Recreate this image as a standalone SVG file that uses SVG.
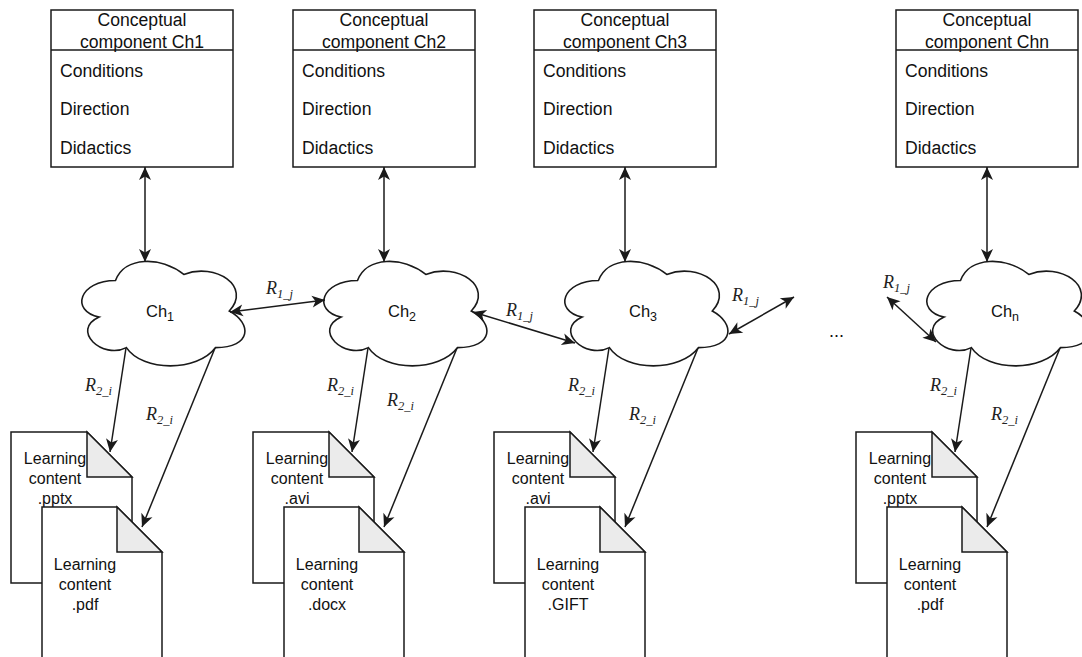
<svg xmlns="http://www.w3.org/2000/svg" xmlns:xlink="http://www.w3.org/1999/xlink" width="1082" height="657" viewBox="0 0 1082 657">
<style>
.box{fill:#fff;stroke:#1a1a1a;stroke-width:1.5}
.t{font-family:"Liberation Sans",Arial,Helvetica,sans-serif;fill:#111}
.hdr{font-size:17.6px;text-anchor:middle}
.item{font-size:17.6px}
.doc{fill:#fff;stroke:#1a1a1a;stroke-width:1.5;stroke-linejoin:miter}
.fold{fill:#ebebeb;stroke:#1a1a1a;stroke-width:1.5}
.dt{font-size:16px;text-anchor:middle}
.cl{fill:#fff;stroke:#1a1a1a;stroke-width:1.6}
.ct{font-size:16.5px;text-anchor:middle}
.edge{stroke:#1a1a1a;stroke-width:1.5;fill:none}
.lbl{font-family:"Liberation Serif","Times New Roman",serif;font-style:italic;font-size:18px;fill:#222}
.sub{font-size:12.5px}
</style>
<defs>
<marker id="arr" viewBox="-14 -7 15 14" refX="0" refY="0" markerWidth="15" markerHeight="14" markerUnits="userSpaceOnUse" orient="auto-start-reverse">
<path d="M0,0 L-13,-6 L-9.5,0 L-13,6 Z" fill="#1a1a1a"/>
</marker>
<path id="cloud" d="M45.5,30.5 C9.1,30.5 0,61 29.1,67.1 C0,80.5 32.8,109.8 56.4,97.6 C72.8,122 127.4,122 145.6,97.6 C182,97.6 182,73.2 159.3,61 C182,36.6 145.6,12.2 113.8,24.4 C91,6.1 54.6,6.1 45.5,30.5 Z"/>
</defs>

<!-- Conceptual component boxes -->
<g id="box1">
<rect class="box" x="51" y="10" width="182" height="157"/>
<line class="box" x1="51" y1="50" x2="233" y2="50"/>
<text class="t hdr" x="142" y="26">Conceptual</text>
<text class="t hdr" x="142" y="47.5">component Ch1</text>
<text class="t item" x="60" y="76.5">Conditions</text>
<text class="t item" x="60" y="115">Direction</text>
<text class="t item" x="60" y="154">Didactics</text>
</g>
<g id="box2">
<rect class="box" x="293" y="10" width="182" height="157"/>
<line class="box" x1="293" y1="50" x2="475" y2="50"/>
<text class="t hdr" x="384" y="26">Conceptual</text>
<text class="t hdr" x="384" y="47.5">component Ch2</text>
<text class="t item" x="302" y="76.5">Conditions</text>
<text class="t item" x="302" y="115">Direction</text>
<text class="t item" x="302" y="154">Didactics</text>
</g>
<g id="box3">
<rect class="box" x="534" y="10" width="182" height="157"/>
<line class="box" x1="534" y1="50" x2="716" y2="50"/>
<text class="t hdr" x="625" y="26">Conceptual</text>
<text class="t hdr" x="625" y="47.5">component Ch3</text>
<text class="t item" x="543" y="76.5">Conditions</text>
<text class="t item" x="543" y="115">Direction</text>
<text class="t item" x="543" y="154">Didactics</text>
</g>
<g id="boxn">
<rect class="box" x="896" y="10" width="182" height="157"/>
<line class="box" x1="896" y1="50" x2="1078" y2="50"/>
<text class="t hdr" x="987" y="26">Conceptual</text>
<text class="t hdr" x="987" y="47.5">component Chn</text>
<text class="t item" x="905" y="76.5">Conditions</text>
<text class="t item" x="905" y="115">Direction</text>
<text class="t item" x="905" y="154">Didactics</text>
</g>

<!-- Clouds -->
<g id="cloud1">
<use xlink:href="#cloud" href="#cloud" class="cl" x="70" y="250"/>
<text class="t ct" x="160" y="317">Ch<tspan class="sub" dy="4">1</tspan></text>
</g>
<g id="cloud2">
<use xlink:href="#cloud" href="#cloud" class="cl" x="312" y="250"/>
<text class="t ct" x="402" y="317">Ch<tspan class="sub" dy="4">2</tspan></text>
</g>
<g id="cloud3">
<use xlink:href="#cloud" href="#cloud" class="cl" x="553" y="250"/>
<text class="t ct" x="643" y="317">Ch<tspan class="sub" dy="4">3</tspan></text>
</g>
<g id="cloudn">
<use xlink:href="#cloud" href="#cloud" class="cl" x="915" y="250"/>
<text class="t ct" x="1005" y="317">Ch<tspan class="sub" dy="4">n</tspan></text>
</g>

<text id="ellipsis" class="t" x="829" y="337" font-size="18">...</text>

<!-- Learning content documents -->
<g id="doc1a">
<path class="doc" d="M11,432 H87 L132,477 V583 H11 Z"/>
<path class="fold" d="M87,432 V477 H132 Z"/>
<text class="t dt" x="55" y="464">Learning</text>
<text class="t dt" x="55" y="484">content</text>
<text class="t dt" x="55" y="504">.pptx</text>
</g>
<g id="doc1b">
<path class="doc" d="M42,507 H117 L162,552 V690 H42 Z"/>
<path class="fold" d="M117,507 V552 H162 Z"/>
<text class="t dt" x="85" y="570">Learning</text>
<text class="t dt" x="85" y="590">content</text>
<text class="t dt" x="85" y="610">.pdf</text>
</g>
<g id="doc2a">
<path class="doc" d="M253,432 H329 L374,477 V583 H253 Z"/>
<path class="fold" d="M329,432 V477 H374 Z"/>
<text class="t dt" x="297" y="464">Learning</text>
<text class="t dt" x="297" y="484">content</text>
<text class="t dt" x="297" y="504">.avi</text>
</g>
<g id="doc2b">
<path class="doc" d="M284,507 H359 L404,552 V690 H284 Z"/>
<path class="fold" d="M359,507 V552 H404 Z"/>
<text class="t dt" x="327" y="570">Learning</text>
<text class="t dt" x="327" y="590">content</text>
<text class="t dt" x="327" y="610">.docx</text>
</g>
<g id="doc3a">
<path class="doc" d="M494,432 H570 L615,477 V583 H494 Z"/>
<path class="fold" d="M570,432 V477 H615 Z"/>
<text class="t dt" x="538" y="464">Learning</text>
<text class="t dt" x="538" y="484">content</text>
<text class="t dt" x="538" y="504">.avi</text>
</g>
<g id="doc3b">
<path class="doc" d="M525,507 H600 L645,552 V690 H525 Z"/>
<path class="fold" d="M600,507 V552 H645 Z"/>
<text class="t dt" x="568" y="570">Learning</text>
<text class="t dt" x="568" y="590">content</text>
<text class="t dt" x="568" y="610">.GIFT</text>
</g>
<g id="docna">
<path class="doc" d="M856,432 H932 L977,477 V583 H856 Z"/>
<path class="fold" d="M932,432 V477 H977 Z"/>
<text class="t dt" x="900" y="464">Learning</text>
<text class="t dt" x="900" y="484">content</text>
<text class="t dt" x="900" y="504">.pptx</text>
</g>
<g id="docnb">
<path class="doc" d="M887,507 H962 L1007,552 V690 H887 Z"/>
<path class="fold" d="M962,507 V552 H1007 Z"/>
<text class="t dt" x="930" y="570">Learning</text>
<text class="t dt" x="930" y="590">content</text>
<text class="t dt" x="930" y="610">.pdf</text>
</g>

<!-- Connectors -->
<g id="connectors">
<path class="edge" d="M145,167 L145,262" marker-start="url(#arr)" marker-end="url(#arr)"/>
<path class="edge" d="M384,167 L384,262" marker-start="url(#arr)" marker-end="url(#arr)"/>
<path class="edge" d="M625,167 L625,262" marker-start="url(#arr)" marker-end="url(#arr)"/>
<path class="edge" d="M987,167 L987,262" marker-start="url(#arr)" marker-end="url(#arr)"/>

<path class="edge" d="M230,312 L325,300" marker-start="url(#arr)" marker-end="url(#arr)"/>
<path class="edge" d="M473,312 L575,343" marker-start="url(#arr)" marker-end="url(#arr)"/>
<path class="edge" d="M729,334 L794,297" marker-start="url(#arr)" marker-end="url(#arr)"/>
<path class="edge" d="M936,342 L887,297" marker-start="url(#arr)" marker-end="url(#arr)"/>

<path class="edge" d="M126,348 L110,452" marker-end="url(#arr)"/>
<path class="edge" d="M215,348 L142,527" marker-end="url(#arr)"/>
<path class="edge" d="M368,348 L352,452" marker-end="url(#arr)"/>
<path class="edge" d="M457,348 L384,527" marker-end="url(#arr)"/>
<path class="edge" d="M609,348 L593,452" marker-end="url(#arr)"/>
<path class="edge" d="M698,348 L625,527" marker-end="url(#arr)"/>
<path class="edge" d="M971,348 L955,452" marker-end="url(#arr)"/>
<path class="edge" d="M1060,348 L987,527" marker-end="url(#arr)"/>

<text class="lbl" x="266" y="294">R<tspan class="sub" dy="4">1_j</tspan></text>
<text class="lbl" x="506" y="316">R<tspan class="sub" dy="4">1_j</tspan></text>
<text class="lbl" x="732" y="301">R<tspan class="sub" dy="4">1_j</tspan></text>
<text class="lbl" x="883" y="288">R<tspan class="sub" dy="4">1_j</tspan></text>

<text class="lbl" x="85" y="391">R<tspan class="sub" dy="4">2_i</tspan></text>
<text class="lbl" x="146" y="420">R<tspan class="sub" dy="4">2_i</tspan></text>
<text class="lbl" x="327" y="391">R<tspan class="sub" dy="4">2_i</tspan></text>
<text class="lbl" x="387" y="406">R<tspan class="sub" dy="4">2_i</tspan></text>
<text class="lbl" x="568" y="391">R<tspan class="sub" dy="4">2_i</tspan></text>
<text class="lbl" x="629" y="420">R<tspan class="sub" dy="4">2_i</tspan></text>
<text class="lbl" x="930" y="391">R<tspan class="sub" dy="4">2_i</tspan></text>
<text class="lbl" x="991" y="420">R<tspan class="sub" dy="4">2_i</tspan></text>
</g>
</svg>
